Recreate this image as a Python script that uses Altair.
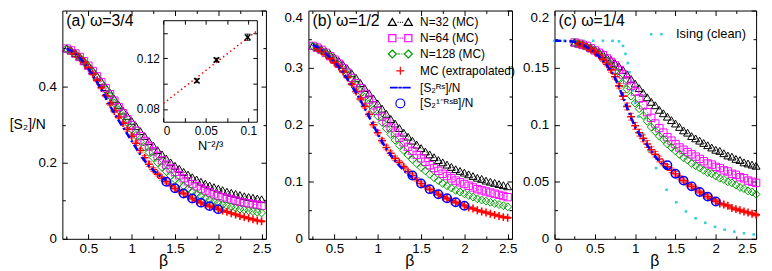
import altair as alt
import pandas as pd

FONT = "Liberation Sans"
BLACK = "#000000"; MAGENTA = "#ff00ff"; GREEN = "#009a00"; RED = "#ff0000"; BLUE = "#0000ff"; CYAN = "#3ccfcf"

# ---------------- data ----------------
beta_mc = [0.25, 0.30, 0.35, 0.40, 0.45, 0.50, 0.55, 0.60, 0.65, 0.70, 0.75, 0.80, 0.85, 0.90, 0.95,
           1.00, 1.05, 1.10, 1.15, 1.20, 1.25, 1.30, 1.35, 1.40, 1.45, 1.50, 1.55, 1.60, 1.65, 1.70,
           1.75, 1.80, 1.85, 1.90, 1.95, 2.00, 2.05, 2.10, 2.15, 2.20, 2.25, 2.30, 2.35, 2.40, 2.45, 2.50]
beta_ext = beta_mc[1:]
beta_rs = beta_mc[:24]
beta_rs_c = [0.00, 0.05, 0.10, 0.15, 0.20] + beta_rs
beta_rsb = [1.4, 1.5, 1.6, 1.7, 1.8, 1.9, 2.0]

# panel (a) omega = 3/4
a_n32 = [.500,.495,.488,.479,.468,.456,.443,.429,.414,.399,.384,.368,.352,.337,.323,.310,.296,.283,.270,.257,.245,.233,.222,.211,.201,.192,.184,.176,.169,.162,.156,.150,.145,.140,.136,.132,.128,.124,.121,.118,.115,.112,.110,.108,.106,.104]
a_n64 = [.500,.495,.487,.478,.467,.455,.441,.427,.412,.396,.380,.363,.346,.330,.314,.299,.284,.270,.256,.243,.230,.218,.206,.195,.185,.176,.167,.159,.151,.144,.138,.132,.127,.122,.117,.113,.109,.106,.103,.100,.097,.095,.093,.091,.089,.087]
a_n128 = [.500,.494,.486,.477,.466,.453,.439,.424,.408,.392,.375,.357,.339,.322,.305,.288,.272,.256,.241,.227,.213,.200,.188,.177,.166,.156,.147,.139,.131,.124,.118,.112,.107,.102,.098,.094,.090,.087,.084,.081,.078,.076,.074,.072,.070,.068]
a_ext = [.494,.486,.476,.464,.450,.434,.416,.397,.376,.355,.336,.320,.304,.288,.270,.251,.232,.213,.196,.182,.170,.159,.150,.141,.133,.126,.119,.112,.106,.100,.095,.090,.086,.082,.078,.074,.071,.067,.064,.060,.057,.054,.051,.048,.046]
a_err = [.002,.002,.002,.002,.002,.003,.003,.003,.003,.004,.004,.004,.005,.005,.005,.006,.006,.006,.006,.005,.005,.005,.004,.004,.004,.004,.003,.003,.003,.003,.003,.003,.003,.003,.003,.002,.002,.002,.002,.002,.002,.002,.002,.002,.002]
a_rs = [.500,.494,.486,.476,.463,.448,.431,.412,.392,.371,.350,.330,.311,.293,.275,.257,.239,.221,.205,.191,.180,.170,.161,.153]
a_rsb = [.150,.133,.119,.106,.095,.086,.078]

# inset of panel (a)
inset_x = [0.0394, 0.0625, 0.0992]
inset_y = [0.1023, 0.1187, 0.1366]
inset_err = [0.0015, 0.0015, 0.0025]
fit_x = [0.0, 0.11]
fit_y = [0.0844, 0.1416]

# panel (b) omega = 1/2
b_n32 = [.338,.336,.333,.329,.324,.318,.312,.305,.298,.290,.282,.273,.264,.255,.246,.237,.228,.219,.210,.202,.194,.186,.179,.172,.165,.159,.153,.148,.143,.138,.134,.130,.126,.122,.119,.116,.113,.110,.107,.105,.102,.100,.098,.096,.094,.092]
b_n64 = [.338,.335,.331,.326,.320,.314,.307,.299,.291,.282,.273,.264,.254,.244,.234,.224,.214,.204,.195,.186,.177,.169,.161,.154,.147,.141,.135,.129,.124,.119,.114,.110,.106,.102,.099,.096,.093,.090,.087,.085,.083,.081,.079,.077,.075,.073]
b_n128 = [.338,.335,.330,.325,.319,.312,.305,.297,.288,.279,.269,.259,.248,.237,.226,.215,.204,.193,.183,.173,.164,.155,.147,.139,.132,.125,.119,.113,.107,.102,.097,.093,.089,.085,.082,.079,.076,.073,.070,.068,.066,.064,.062,.060,.058,.056]
b_ext = [.334,.329,.323,.316,.309,.302,.293,.283,.271,.258,.245,.232,.218,.200,.186,.172,.160,.150,.141,.134,.126,.118,.111,.104,.097,.092,.087,.082,.078,.074,.071,.067,.064,.061,.058,.055,.053,.050,.048,.046,.044,.042,.040,.038,.037]
b_err = [.0015,.0015,.0015,.0015,.0015,.002,.002,.002,.002,.003,.003,.003,.004,.004,.004,.004,.004,.004,.004,.003,.003,.003,.003,.003,.003,.002,.002,.002,.002,.002,.002,.002,.002,.002,.002,.0015,.0015,.0015,.0015,.0015,.0015,.0015,.0015,.0015,.0015]
b_rs = [.340,.336,.331,.325,.318,.310,.301,.291,.280,.268,.256,.243,.229,.214,.199,.184,.170,.158,.147,.137,.128,.120,.113,.107]
b_rsb = [.111,.097,.087,.078,.071,.064,.058]

# panel (c) omega = 1/4
c_n32 = [.172,.171,.170,.169,.167,.166,.164,.162,.159,.157,.154,.151,.148,.144,.140,.136,.132,.128,.124,.120,.117,.113,.110,.107,.104,.101,.098,.095,.093,.090,.088,.086,.084,.082,.080,.078,.077,.075,.073,.072,.070,.069,.067,.066,.065,.064]
c_n64 = [.172,.171,.170,.169,.167,.165,.163,.161,.158,.155,.152,.148,.144,.139,.134,.129,.123,.117,.111,.106,.101,.097,.093,.089,.086,.083,.080,.078,.076,.074,.072,.070,.068,.066,.065,.063,.062,.060,.059,.057,.056,.054,.053,.051,.050,.049]
c_n128 = [.172,.171,.170,.168,.167,.165,.162,.159,.156,.152,.147,.141,.136,.131,.125,.119,.114,.108,.103,.098,.094,.090,.087,.083,.080,.077,.074,.071,.069,.066,.064,.062,.060,.058,.057,.055,.053,.052,.050,.049,.047,.045,.044,.042,.041,.039]
c_ext = [.171,.170,.168,.166,.164,.161,.157,.153,.148,.142,.134,.125,.116,.107,.099,.093,.088,.083,.078,.074,.070,.066,.063,.060,.057,.054,.051,.048,.046,.044,.041,.039,.037,.035,.033,.031,.030,.029,.027,.026,.025,.024,.023,.022,.021]
c_err = [.001,.001,.001,.001,.001,.0015,.0015,.0015,.002,.002,.002,.003,.003,.003,.003,.003,.003,.003,.0025,.0025,.0025,.002,.002,.002,.002,.0015,.0015,.0015,.0015,.0015,.0015,.0015,.0015,.0015,.0015,.001,.001,.001,.001,.001,.001,.001,.001,.001,.001]
c_rs = [.1735,.1735,.1734,.1733,.1731,.1725,.171,.170,.168,.166,.163,.160,.156,.152,.147,.141,.133,.124,.115,.106,.098,.092,.087,.082,.077,.072,.068,.064,.061]
c_rsb = [.0645,.057,.051,.046,.041,.037,.0327]
beta_is = [0.00,0.12,0.24,0.36,0.48,0.60,0.72,0.80,0.85,0.88,0.91,0.93,0.95,0.97,1.00,1.04,1.10,1.17,1.26,1.39,1.51,1.63,1.75,1.87,1.99,2.11,2.23,2.35,2.47]
is_v = [.1735,.1735,.1735,.1735,.1735,.1735,.1734,.173,.169,.162,.154,.146,.138,.130,.119,.107,.092,.077,.062,.043,.032,.024,.018,.014,.0105,.008,.0063,.0049,.0038]

# legends
leg_b_names = ["N=32 (MC)", "N=64 (MC)", "N=128 (MC)", "MC (extrapolated)", "[S₂ᴿˢ]/N", "[S₂¹⁻ᴿˢᴮ]/N"]
leg_b_colors = [BLACK, MAGENTA, GREEN, RED, BLUE, BLUE]
DOTS = " M-0.3,0h0.1M-0.05,0h0.1M0.2,0h0.1"
leg_b_paths = [
    "M-1.35,0.33L-0.9,-0.45L-0.45,0.33Z M0.45,0.33L0.9,-0.45L1.35,0.33Z" + DOTS,
    "M-1.3,-0.4h0.8v0.8h-0.8Z M0.5,-0.4h0.8v0.8h-0.8Z" + DOTS,
    "M-0.9,-0.45L-0.45,0L-0.9,0.45L-1.35,0Z M0.9,-0.45L1.35,0L0.9,0.45L0.45,0Z M-0.35,0h0.3M0.05,0h0.1M0.25,0h0.1",
    "M-0.45,0H0.45M0,-0.45V0.45",
    "M-1.1,-0.04H-0.35V0.04H-1.1Z M-0.15,-0.04H0.1V0.04H-0.15Z M0.3,-0.04H1.1V0.04H0.3Z",
    "M-0.5,0A0.5,0.5 0 1,1 0.5,0A0.5,0.5 0 1,1 -0.5,0Z",
]
leg_c_names = ["Ising (clean)"]
leg_c_colors = [CYAN]
leg_c_paths = ["M-0.72,-0.14h0.28v0.28h-0.28Z M0.44,-0.14h0.28v0.28h-0.28Z"]

PLUS = "M-1,0H1M0,-1V1"
XMARK = "M-1,-1L1,1M-1,1L1,-1"

W_AB, W_C, H = 206, 204, 231


def sc(dom, rng=None):
    if rng is None:
        return alt.Scale(domain=dom, nice=False, zero=False)
    return alt.Scale(domain=dom, range=rng, nice=False, zero=False)


def ax(**kw):
    base = dict(grid=False, domain=False, tickColor=BLACK, tickWidth=1, labelFont=FONT, labelColor=BLACK,
                titleFont=FONT, titleColor=BLACK, titleFontWeight="normal", title=None)
    base.update(kw)
    return alt.Axis(**base)


def frame(df, xdom, ydom, xmaj, xmin, ylab, yall, ymin, width, ytop=None, ytitle=None):
    X = lambda a: alt.X("b:Q", scale=sc(xdom), axis=a)
    Y = lambda a: alt.Y("v:Q", scale=sc(ydom), axis=a)
    base = alt.Chart(df).mark_point(opacity=0)
    ykw = dict(orient="left", values=ylab, format="~g", tickSize=5, offset=-5, labelPadding=6, labelFontSize=13.5)
    if ytitle:
        ykw.update(title=ytitle, titleAngle=0, titleAlign="center", titleBaseline="middle",
                   titleX=-40.5, titleY=115, titleFontSize=14)
    out = [
        base.encode(x=X(ax(orient="bottom", values=xmaj, format="~g", tickSize=5, offset=-5, labelPadding=3,
                           labelFontSize=13.5, title="β", titleFontSize=16, titleAngle=0,
                           titleBaseline="alphabetic", titleAlign="center", titleX=width / 2 - 1, titleY=32)),
                    y=Y(ax(**ykw))),
        base.encode(x=X(ax(orient="bottom", values=xmin, tickSize=3, offset=-3, labels=False)),
                    y=Y(ax(orient="left", values=ymin, tickSize=3, offset=-3, labels=False))),
        base.encode(x=X(ax(orient="top", values=xmaj, tickSize=5, offset=-5, labels=False)),
                    y=Y(ax(orient="right", values=yall, tickSize=5, offset=-5, labels=False))),
        base.encode(x=X(ax(orient="top", values=xmin, tickSize=3, offset=-3, labels=False)),
                    y=Y(ax(orient="right", values=ymin, tickSize=3, offset=-3, labels=False))),
    ]
    if ytop is not None:
        out.append(base.encode(x=X(None), y=Y(ax(orient="left", values=[ytop], format="~g", ticks=False, tickSize=0,
                                                   labelPadding=6, labelFontSize=13.5, labelBaseline="top"))))
    return out


def enc(xdom, ydom, yfield="v"):
    return dict(x=alt.X("b:Q", scale=sc(xdom), axis=None), y=alt.Y(yfield + ":Q", scale=sc(ydom), axis=None))


def mc_series(beta, vals, xdom, ydom, shape, color, size):
    df = pd.DataFrame({"b": beta, "v": vals})
    ln = alt.Chart(df).mark_line(color=color, strokeWidth=0.8, strokeDash=[1, 2], clip=True).encode(**enc(xdom, ydom))
    pt = alt.Chart(df).mark_point(shape=shape, filled=False, size=size, color=color, strokeWidth=1, opacity=1).encode(**enc(xdom, ydom))
    return [ln, pt]


def ext_series(vals, errs, xdom, ydom):
    df = pd.DataFrame({"b": beta_ext, "v": vals, "lo": [v - e for v, e in zip(vals, errs)],
                       "hi": [v + e for v, e in zip(vals, errs)]})
    e = enc(xdom, ydom)
    rule = alt.Chart(df).mark_rule(color=RED, strokeWidth=1).encode(
        x=e["x"], y=alt.Y("lo:Q", scale=sc(ydom), axis=None), y2="hi:Q")
    cap1 = alt.Chart(df).mark_tick(color=RED, orient="horizontal", size=6, thickness=1).encode(**enc(xdom, ydom, "lo"))
    cap2 = alt.Chart(df).mark_tick(color=RED, orient="horizontal", size=6, thickness=1).encode(**enc(xdom, ydom, "hi"))
    pt = alt.Chart(df).mark_point(shape=PLUS, filled=False, size=64, color=RED, strokeWidth=1.6, opacity=1).encode(**e)
    return [rule, cap1, cap2, pt]


def rs_line(beta, vals, xdom, ydom):
    df = pd.DataFrame({"b": beta, "v": vals})
    return alt.Chart(df).mark_line(color=BLUE, strokeWidth=2.5, strokeDash=[7, 3, 2, 3], clip=True).encode(**enc(xdom, ydom))


def rsb_pts(vals, xdom, ydom):
    df = pd.DataFrame({"b": beta_rsb, "v": vals})
    return alt.Chart(df).mark_point(shape="circle", filled=False, size=72, color=BLUE, strokeWidth=1.5, opacity=1).encode(**enc(xdom, ydom))


def label(text):
    return alt.Chart(pd.DataFrame({"t": [text]})).mark_text(
        align="left", baseline="middle", font=FONT, fontSize=16, color=BLACK
    ).encode(text="t:N", x=alt.value(4), y=alt.value(11))


def legend_layer(names, colors, paths, lx, ly, fs, filled=False, sw=1.2):
    lg = alt.Legend(title=None, orient="none", legendX=lx, legendY=ly, symbolSize=324, symbolStrokeWidth=sw,
                    symbolOpacity=1, labelFont=FONT, labelFontSize=fs, labelColor=BLACK, labelOffset=10,
                    rowPadding=0, padding=0)
    return alt.Chart(pd.DataFrame({"s": names})).mark_point(opacity=0, filled=filled).encode(
        color=alt.Color("s:N", scale=alt.Scale(domain=names, range=colors), legend=lg),
        shape=alt.Shape("s:N", scale=alt.Scale(domain=names, range=paths), legend=lg),
    )


def panel(xdom, ydom, xmaj, xmin, ylab, yall, ymin, n32, n64, n128, ext, err, rs_b, rs, rsb, text,
          ytop=None, ytitle=None, extra_front=(), extra_back=(), width=W_AB):
    df0 = pd.DataFrame({"b": beta_mc, "v": n32})
    layers = frame(df0, xdom, ydom, xmaj, xmin, ylab, yall, ymin, width, ytop, ytitle)
    layers += list(extra_back)
    layers += mc_series(beta_mc, n32, xdom, ydom, "triangle-up", BLACK, 64)
    layers += mc_series(beta_mc, n64, xdom, ydom, "square", MAGENTA, 56)
    layers += mc_series(beta_mc, n128, xdom, ydom, "diamond", GREEN, 64)
    layers += ext_series(ext, err, xdom, ydom)
    layers.append(rs_line(rs_b, rs, xdom, ydom))
    layers.append(rsb_pts(rsb, xdom, ydom))
    layers += list(extra_front)
    layers.append(label(text))
    return alt.layer(*layers).properties(width=width, height=H).resolve_scale(x="independent", y="independent")


# ---------- inset for panel (a) ----------
IXD, IYD = [0.0, 0.11], [0.07, 0.15]
IXR, IYR = [102.2, 196.8], [112.5, 9.8]


def inset_layers():
    ix = lambda a: alt.X("x:Q", scale=sc(IXD, IXR), axis=a)
    iy = lambda a: alt.Y("y:Q", scale=sc(IYD, IYR), axis=a)
    df = pd.DataFrame({"x": inset_x, "y": inset_y,
                       "lo": [v - e for v, e in zip(inset_y, inset_err)],
                       "hi": [v + e for v, e in zip(inset_y, inset_err)]})
    base = alt.Chart(df).mark_point(opacity=0)
    dom = dict(domain=True, domainColor=BLACK, domainWidth=1, ticks=False, tickSize=0)
    out = [
        base.encode(x=ix(ax(orient="bottom", offset=IYR[0] - H, values=[0, 0.05, 0.1], format="~g", labelPadding=4,
                            labelFontSize=12, title="N⁻²/³", titleFontSize=13, titlePadding=3, **dom)),
                    y=iy(ax(orient="left", offset=-IXR[0], values=[0.08, 0.12], format=".2f", labelPadding=4,
                            labelFontSize=12, **dom))),
        base.encode(x=ix(ax(orient="top", offset=-IYR[1], labels=False, **dom)),
                    y=iy(ax(orient="right", offset=IXR[1] - W_AB, labels=False, **dom))),
        base.encode(x=ix(ax(orient="bottom", offset=IYR[0] - 4 - H, values=[0, 0.025, 0.05, 0.075, 0.1],
                            tickSize=4, labels=False)),
                    y=iy(ax(orient="left", offset=-(IXR[0] + 4), values=[0.08, 0.10, 0.12, 0.14], tickSize=4, labels=False))),
        base.encode(x=ix(ax(orient="top", offset=-(IYR[1] + 4), values=[0, 0.025, 0.05, 0.075, 0.1],
                            tickSize=4, labels=False)),
                    y=iy(ax(orient="right", offset=IXR[1] - 4 - W_AB, values=[0.08, 0.10, 0.12, 0.14], tickSize=4, labels=False))),
    ]
    fit = pd.DataFrame({"x": fit_x, "y": fit_y})
    out.append(alt.Chart(fit).mark_line(color=RED, strokeWidth=1.5, strokeDash=[1.5, 3]).encode(x=ix(None), y=iy(None)))
    out.append(alt.Chart(df).mark_rule(color=BLACK, strokeWidth=1).encode(
        x=ix(None), y=alt.Y("lo:Q", scale=sc(IYD, IYR), axis=None), y2="hi:Q"))
    for f in ("lo", "hi"):
        out.append(alt.Chart(df).mark_tick(color=BLACK, orient="horizontal", size=6, thickness=1).encode(
            x=ix(None), y=alt.Y(f + ":Q", scale=sc(IYD, IYR), axis=None)))
    out.append(alt.Chart(df).mark_point(shape=XMARK, filled=False, size=30, color=BLACK, strokeWidth=1.5, opacity=1).encode(
        x=ix(None), y=iy(None)))
    return out


XAB = [0.2, 2.55]
XMAJ_AB = [0.5, 1.0, 1.5, 2.0, 2.5]
XMIN_AB = [0.25, 0.75, 1.25, 1.75, 2.25]

pa = panel(XAB, [0, 0.6], XMAJ_AB, XMIN_AB, [0, 0.2, 0.4], [0, 0.2, 0.4, 0.6], [0.1, 0.3, 0.5],
           a_n32, a_n64, a_n128, a_ext, a_err, beta_rs, a_rs, a_rsb, "(a) ω=3/4",
           ytitle="[S₂]/N", extra_front=inset_layers())

pb = panel(XAB, [0, 0.4], XMAJ_AB, XMIN_AB, [0, 0.1, 0.2, 0.3], [0, 0.1, 0.2, 0.3, 0.4], [0.05, 0.15, 0.25, 0.35],
           b_n32, b_n64, b_n128, b_ext, b_err, beta_rs, b_rs, b_rsb, "(b) ω=1/2", ytop=0.4,
           extra_front=[legend_layer(leg_b_names, leg_b_colors, leg_b_paths, 83, 2, 12)])

ising_df = pd.DataFrame({"b": beta_is, "v": is_v})
ising = alt.Chart(ising_df).mark_square(size=7, color=CYAN, filled=True, opacity=1).encode(**enc([0, 2.5], [0, 0.2]))

pc = panel([0, 2.5], [0, 0.2], [0, 0.5, 1.0, 1.5, 2.0, 2.5], XMIN_AB, [0, 0.05, 0.1, 0.15], [0, 0.05, 0.1, 0.15, 0.2],
           [0.025, 0.075, 0.125, 0.175],
           c_n32, c_n64, c_n128, c_ext, c_err, beta_rs_c, c_rs, c_rsb, "(c) ω=1/4", ytop=0.2,
           extra_back=[ising],
           extra_front=[legend_layer(leg_c_names, leg_c_colors, leg_c_paths, 93, 14, 13, filled=True)],
           width=W_C)

chart = alt.hconcat(pa, pb, pc, spacing=43, bounds="flush").resolve_scale(
    color="independent", shape="independent"
).configure_view(stroke=BLACK, strokeWidth=1).properties(
    padding={"left": 0, "right": 0, "top": 0, "bottom": 0}
)

chart.save("out.html", embed_options={"renderer": "svg", "actions": False})
